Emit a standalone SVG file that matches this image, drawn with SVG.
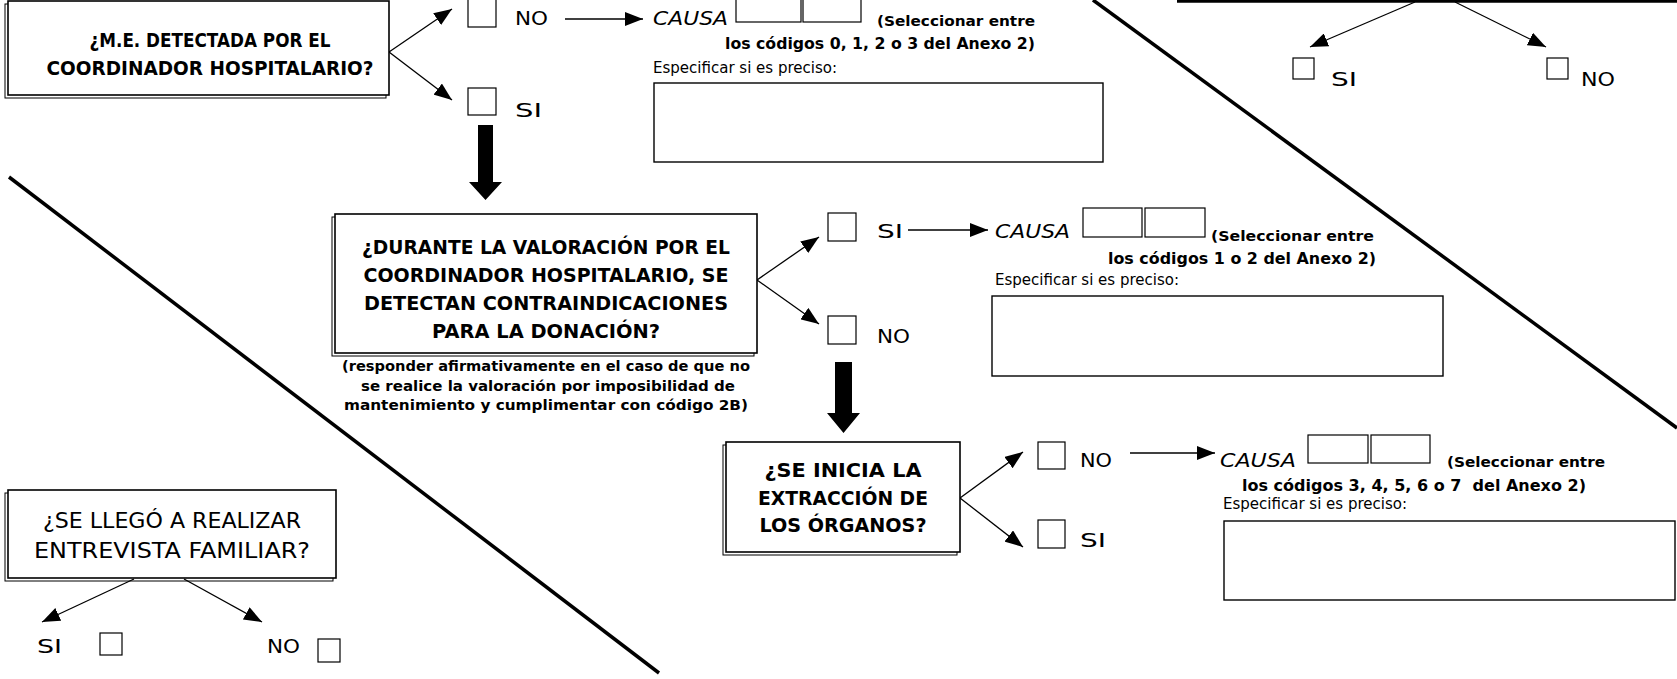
<svg xmlns="http://www.w3.org/2000/svg" width="1677" height="679" viewBox="0 0 1677 679">
<style>
text{font-family:"Comic Sans MS","DejaVu Sans",sans-serif;fill:#000}
.q{font-size:19px;font-weight:bold;text-anchor:middle}
.q2{font-size:22px;text-anchor:middle}
.yn{font-family:"DejaVu Sans",Verdana,sans-serif;font-size:20px}
.causa{font-size:20px;font-style:italic}
.sel{font-size:14px;font-weight:bold}
.cod{font-size:15px;font-weight:bold}
.esp{font-size:15px}
.note{font-size:14px;font-weight:bold;text-anchor:middle}
.box{fill:#fff;stroke:#000;stroke-width:1.6}
.shadow{fill:none;stroke:#000;stroke-width:1}
.cb{fill:#fff;stroke:#000;stroke-width:1.2}
.fld{fill:#fff;stroke:#000;stroke-width:1.4}
.con{fill:none;stroke:#000;stroke-width:1.3}
.diag{fill:none;stroke:#000;stroke-width:3.5}
</style>
<defs>
<marker id="ah" viewBox="0 0 18 14" refX="18" refY="7" markerWidth="18" markerHeight="14" markerUnits="userSpaceOnUse" orient="auto">
<path d="M0,0 L18,7 L0,14 Z" fill="#000"/>
</marker>
</defs>
<rect x="0" y="0" width="1677" height="679" fill="#fff"/>

<g id="dividers">
<line class="diag" x1="1093" y1="0" x2="1677" y2="428"/>
<line class="diag" x1="9" y1="177" x2="659" y2="673"/>
<line x1="1177" y1="1.3" x2="1677" y2="1.3" stroke="#000" stroke-width="2.7"/>
</g>

<g id="connectors">
<line class="con" x1="389" y1="52" x2="452" y2="9" marker-end="url(#ah)"/>
<line class="con" x1="389" y1="52" x2="452" y2="100" marker-end="url(#ah)"/>
<line class="con" x1="565" y1="19" x2="643" y2="19" marker-end="url(#ah)"/>
<line class="con" x1="1415" y1="2" x2="1310" y2="47" marker-end="url(#ah)"/>
<line class="con" x1="1455" y1="2" x2="1546" y2="47" marker-end="url(#ah)"/>
<line class="con" x1="757" y1="280" x2="819" y2="237" marker-end="url(#ah)"/>
<line class="con" x1="757" y1="280" x2="819" y2="324" marker-end="url(#ah)"/>
<line class="con" x1="908" y1="230" x2="988" y2="230" marker-end="url(#ah)"/>
<line class="con" x1="960" y1="498" x2="1023" y2="452" marker-end="url(#ah)"/>
<line class="con" x1="960" y1="498" x2="1023" y2="547" marker-end="url(#ah)"/>
<line class="con" x1="1130" y1="453" x2="1215" y2="453" marker-end="url(#ah)"/>
<line class="con" x1="134" y1="579" x2="42" y2="622" marker-end="url(#ah)"/>
<line class="con" x1="184" y1="579" x2="262" y2="622" marker-end="url(#ah)"/>
<polygon points="478,125 493,125 493,182 502,182 485.5,200 469,182 478,182" fill="#000"/>
<polygon points="835,362 852,362 852,413 860,413 843.5,433 827,413 835,413" fill="#000"/>
</g>

<g id="q1">
<rect class="shadow" x="5" y="4" width="381" height="94"/>
<rect class="box" x="8" y="1" width="381" height="94"/>
<text class="q" x="210" y="47" textLength="241" lengthAdjust="spacingAndGlyphs">¿M.E. DETECTADA POR EL</text>
<text class="q" x="210" y="75" textLength="327" lengthAdjust="spacingAndGlyphs">COORDINADOR HOSPITALARIO?</text>
</g>
<g id="q1-no">
<rect class="cb" x="468" y="-1" width="28" height="28"/>
<text class="yn" x="515" y="25" textLength="33" lengthAdjust="spacingAndGlyphs">NO</text>
</g>
<g id="q1-si">
<rect class="cb" x="468" y="88" width="28" height="27"/>
<text class="yn" x="515" y="117" textLength="27" lengthAdjust="spacingAndGlyphs">SI</text>
</g>
<g id="causa1">
<text class="causa" x="653" y="25" textLength="75" lengthAdjust="spacingAndGlyphs">CAUSA</text>
<rect class="cb" x="736" y="-2" width="65" height="24"/>
<rect class="cb" x="803" y="-2" width="58" height="24"/>
<text class="sel" x="877" y="26" textLength="158" lengthAdjust="spacingAndGlyphs">(Seleccionar entre</text>
<text class="cod" x="725" y="49" textLength="310" lengthAdjust="spacingAndGlyphs">los códigos 0, 1, 2 o 3 del Anexo 2)</text>
<text class="esp" x="653" y="73" textLength="184" lengthAdjust="spacingAndGlyphs">Especificar si es preciso:</text>
<rect class="fld" x="654" y="83" width="449" height="79"/>
</g>

<g id="topright">
<rect class="cb" x="1293" y="58" width="21" height="21"/>
<text class="yn" x="1331" y="86" textLength="26" lengthAdjust="spacingAndGlyphs">SI</text>
<rect class="cb" x="1547" y="58" width="21" height="21"/>
<text class="yn" x="1581" y="86" textLength="34" lengthAdjust="spacingAndGlyphs">NO</text>
</g>

<g id="q2">
<rect class="shadow" x="332" y="217" width="422" height="139"/>
<rect class="box" x="335" y="214" width="422" height="139"/>
<text class="q" x="546" y="254" textLength="368" lengthAdjust="spacingAndGlyphs">¿DURANTE LA VALORACIÓN POR EL</text>
<text class="q" x="546" y="282" textLength="365" lengthAdjust="spacingAndGlyphs">COORDINADOR HOSPITALARIO, SE</text>
<text class="q" x="546" y="310" textLength="364" lengthAdjust="spacingAndGlyphs">DETECTAN CONTRAINDICACIONES</text>
<text class="q" x="546" y="338" textLength="228" lengthAdjust="spacingAndGlyphs">PARA LA DONACIÓN?</text>
</g>
<g id="q2-note">
<text class="note" x="546" y="371" textLength="408" lengthAdjust="spacingAndGlyphs">(responder afirmativamente en el caso de que no</text>
<text class="note" x="548" y="391" textLength="374" lengthAdjust="spacingAndGlyphs">se realice la valoración por imposibilidad de</text>
<text class="note" x="546" y="410" textLength="404" lengthAdjust="spacingAndGlyphs">mantenimiento y cumplimentar con código 2B)</text>
</g>
<g id="q2-si">
<rect class="cb" x="828" y="213" width="28" height="28"/>
<text class="yn" x="877" y="238" textLength="26" lengthAdjust="spacingAndGlyphs">SI</text>
</g>
<g id="q2-no">
<rect class="cb" x="828" y="316" width="28" height="28"/>
<text class="yn" x="877" y="343" textLength="33" lengthAdjust="spacingAndGlyphs">NO</text>
</g>
<g id="causa2">
<text class="causa" x="995" y="238" textLength="75" lengthAdjust="spacingAndGlyphs">CAUSA</text>
<rect class="cb" x="1083" y="208" width="59" height="29"/>
<rect class="cb" x="1145" y="208" width="60" height="29"/>
<text class="sel" x="1211" y="241" textLength="163" lengthAdjust="spacingAndGlyphs">(Seleccionar entre</text>
<text class="cod" x="1108" y="264" textLength="268" lengthAdjust="spacingAndGlyphs">los códigos 1 o 2 del Anexo 2)</text>
<text class="esp" x="995" y="285" textLength="184" lengthAdjust="spacingAndGlyphs">Especificar si es preciso:</text>
<rect class="fld" x="992" y="296" width="451" height="80"/>
</g>

<g id="q3">
<rect class="shadow" x="723" y="445" width="234" height="110"/>
<rect class="box" x="726" y="442" width="234" height="110"/>
<text class="q" x="843" y="477" textLength="157" lengthAdjust="spacingAndGlyphs">¿SE INICIA LA</text>
<text class="q" x="843" y="505" textLength="170" lengthAdjust="spacingAndGlyphs">EXTRACCIÓN DE</text>
<text class="q" x="843" y="532" textLength="167" lengthAdjust="spacingAndGlyphs">LOS ÓRGANOS?</text>
</g>
<g id="q3-no">
<rect class="cb" x="1038" y="442" width="27" height="27"/>
<text class="yn" x="1080" y="467" textLength="32" lengthAdjust="spacingAndGlyphs">NO</text>
</g>
<g id="q3-si">
<rect class="cb" x="1038" y="520" width="27" height="28"/>
<text class="yn" x="1080" y="547" textLength="26" lengthAdjust="spacingAndGlyphs">SI</text>
</g>
<g id="causa3">
<text class="causa" x="1220" y="467" textLength="76" lengthAdjust="spacingAndGlyphs">CAUSA</text>
<rect class="cb" x="1308" y="435" width="60" height="28"/>
<rect class="cb" x="1371" y="435" width="59" height="28"/>
<text class="sel" x="1447" y="467" textLength="158" lengthAdjust="spacingAndGlyphs">(Seleccionar entre</text>
<text class="cod" x="1242" y="491" xml:space="preserve" textLength="344" lengthAdjust="spacingAndGlyphs">los códigos 3, 4, 5, 6 o 7  del Anexo 2)</text>
<text class="esp" x="1223" y="509" textLength="184" lengthAdjust="spacingAndGlyphs">Especificar si es preciso:</text>
<rect class="fld" x="1224" y="521" width="451" height="79"/>
</g>

<g id="q4">
<rect class="shadow" x="5" y="493" width="328" height="88"/>
<rect class="box" x="8" y="490" width="328" height="88"/>
<text class="q2" x="172" y="528" textLength="258" lengthAdjust="spacingAndGlyphs">¿SE LLEGÓ A REALIZAR</text>
<text class="q2" x="172" y="558" textLength="276" lengthAdjust="spacingAndGlyphs">ENTREVISTA FAMILIAR?</text>
</g>
<g id="q4-si">
<text class="yn" x="37" y="653" textLength="25" lengthAdjust="spacingAndGlyphs">SI</text>
<rect class="cb" x="100" y="633" width="22" height="22"/>
</g>
<g id="q4-no">
<text class="yn" x="267" y="653" textLength="33" lengthAdjust="spacingAndGlyphs">NO</text>
<rect class="cb" x="318" y="639" width="22" height="23"/>
</g>
</svg>
